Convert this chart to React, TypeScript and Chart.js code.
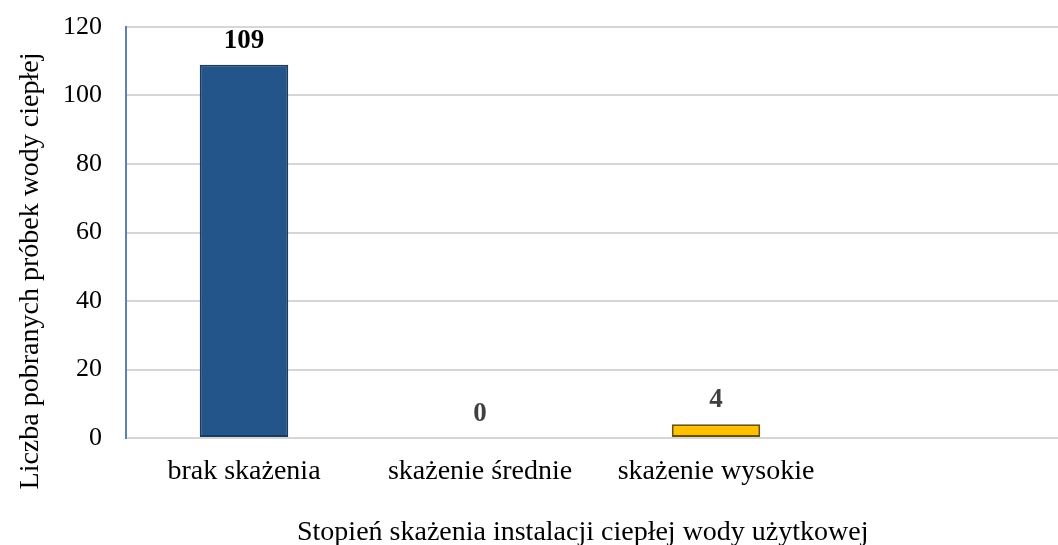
import React, { useEffect, useRef } from "react";
import { Chart, registerables } from "chart.js";

Chart.register(...registerables);

const categories = ["brak skażenia", "skażenie średnie", "skażenie wysokie", ""];
const values = [109, 0, 4, null];
const barColors = ["#24558a", "#24558a", "#ffc000", "#ffc000"];
const barBorders = ["#1a3c62", "#1a3c62", "#6b5200", "#6b5200"];
const labelColors = ["#000000", "#404040", "#404040", "#404040"];
const yTitle = "Liczba pobranych próbek wody ciepłej";
const xTitle = "Stopień skażenia instalacji ciepłej wody użytkowej";
const FONT = "'Liberation Serif', 'Times New Roman', serif";

const valueLabels = {
  id: "valueLabels",
  afterDatasetsDraw(chart: any) {
    const ctx = chart.ctx;
    const meta = chart.getDatasetMeta(0);
    ctx.save();
    ctx.font = `bold 27px ${FONT}`;
    ctx.textAlign = "center";
    ctx.textBaseline = "alphabetic";
    meta.data.forEach((bar: any, i: number) => {
      const v = values[i];
      if (v === null || v === undefined) return;
      ctx.fillStyle = labelColors[i];
      ctx.fillText(String(v), bar.x, bar.y - 17);
    });
    ctx.restore();
  },
};

const axisTitles = {
  id: "axisTitles",
  afterDraw(chart: any) {
    const ctx = chart.ctx;
    ctx.save();
    ctx.fillStyle = "#000";
    ctx.font = `28px ${FONT}`;
    ctx.textBaseline = "alphabetic";
    ctx.textAlign = "left";
    ctx.fillText(xTitle, 297, 540);
    ctx.translate(38, 271);
    ctx.rotate(-Math.PI / 2);
    ctx.textAlign = "center";
    ctx.fillText(yTitle, 0, 0);
    ctx.restore();
  },
};

export default function App() {
  const ref = useRef<HTMLCanvasElement>(null);
  useEffect(() => {
    document.body.style.margin = "0";
    const chart = new Chart(ref.current!, {
      type: "bar",
      data: {
        labels: categories,
        datasets: [
          {
            data: values as any,
            backgroundColor: barColors,
            borderColor: barBorders,
            borderWidth: 2,
            borderSkipped: false,
            barPercentage: 0.375,
            categoryPercentage: 1,
          },
        ],
      },
      options: {
        animation: false,
        responsive: false,
        devicePixelRatio: 1,
        layout: { padding: { left: 0, top: 27, right: 0, bottom: 0 } },
        plugins: { legend: { display: false }, tooltip: { enabled: false } },
        scales: {
          x: {
            grid: { display: false, drawTicks: false },
            border: { display: false },
            afterFit: (s: any) => {
              s.height = 107;
              s.paddingLeft = 0;
              s.paddingRight = 0;
            },
            ticks: {
              color: "#000",
              font: { family: FONT, size: 28 },
              padding: 17,
              maxRotation: 0,
              autoSkip: false,
            },
            title: { display: false },
          },
          y: {
            min: 0,
            max: 120,
            afterFit: (s: any) => {
              s.width = 126;
              s.paddingTop = 0;
              s.paddingBottom = 0;
            },
            ticks: {
              stepSize: 20,
              color: "#000",
              font: { family: FONT, size: 26 },
              padding: 24,
            },
            grid: { color: "#d6d6d6", lineWidth: 2, drawTicks: false },
            border: { display: true, color: "#5b82b5", width: 2 },
            title: { display: false },
          },
        },
      },
      plugins: [valueLabels, axisTitles],
    });
    return () => chart.destroy();
  }, []);
  return (
    <div style={{ width: 1058, height: 545, overflow: "hidden", background: "#fff" }}>
      <canvas ref={ref} width={1070} height={545} style={{ display: "block" }} />
    </div>
  );
}
